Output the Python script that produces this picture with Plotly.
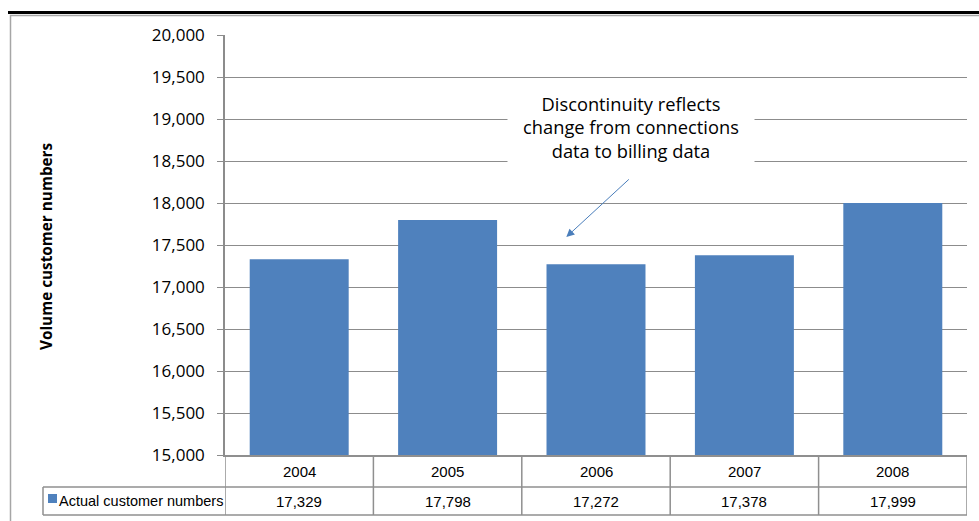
import plotly.graph_objects as go

# Data
years = ["2004", "2005", "2006", "2007", "2008"]
customers = [17329, 17798, 17272, 17378, 17999]
series_name = "Actual customer numbers"
y_ticks = [15000, 15500, 16000, 16500, 17000, 17500, 18000, 18500, 19000, 19500, 20000]
note_text = "Discontinuity reflects<br>change from connections<br>data to billing data"

W, H = 979, 521
L, R, T, B = 225, 967, 35, 455  # plot area in pixels
BAR = "#4f81bd"
GRID = "#8c8c8c"
TABLE = "#8f8f8f"


def px_x(p):
    return (p - L) / (R - L)


def px_y(p):
    return (B - p) / (B - T)


fig = go.Figure()
fig.add_trace(go.Bar(
    x=years, y=customers, marker_color=BAR, marker_line_width=0,
    width=0.667, name=series_name, showlegend=False,
))

shapes = []
annotations = []

# Outer chart frame and heavy rule above it
shapes.append(dict(type="rect", xref="paper", yref="paper",
                   x0=px_x(10.5), x1=px_x(990), y0=px_y(530), y1=px_y(15.5),
                   line=dict(color="#a6a6a6", width=1.5), layer="below"))
shapes.append(dict(type="line", xref="paper", yref="paper",
                   x0=px_x(8), x1=px_x(990), y0=px_y(12.5), y1=px_y(12.5),
                   line=dict(color="#000000", width=3)))

# Data table below the plot
row1_bot = px_y(487)
row2_bot = px_y(515)
n = len(years)
for i in range(n + 1):
    shapes.append(dict(type="line", xref="x", yref="paper",
                       x0=i - 0.5, x1=i - 0.5, y0=0, y1=row2_bot,
                       line=dict(color=TABLE, width=1.5)))
for yy in (row1_bot, row2_bot):
    shapes.append(dict(type="line", xref="paper", yref="paper",
                       x0=px_x(43), x1=1, y0=yy, y1=yy,
                       line=dict(color=TABLE, width=1.5)))
shapes.append(dict(type="line", xref="paper", yref="paper",
                   x0=px_x(43), x1=px_x(43), y0=row1_bot, y1=row2_bot,
                   line=dict(color=TABLE, width=1.5)))
# legend key in the table's first cell
shapes.append(dict(type="rect", xref="paper", yref="paper",
                   x0=px_x(48), x1=px_x(57), y0=px_y(503), y1=px_y(494),
                   fillcolor=BAR, line=dict(width=0)))

table_font = dict(family="Liberation Sans, Arial, sans-serif", size=15, color="#000000")
for i, (yr, v) in enumerate(zip(years, customers)):
    cx = (i + 0.5) / n  # centre of the category column in paper units
    annotations.append(dict(x=cx, y=px_y(471.5), xref="paper", yref="paper",
                            xanchor="center", yanchor="middle",
                            text=yr, showarrow=False, font=table_font))
    annotations.append(dict(x=cx, y=px_y(501.5), xref="paper", yref="paper",
                            xanchor="center", yanchor="middle",
                            text=f"{v:,}", showarrow=False, font=table_font))
annotations.append(dict(x=px_x(57), y=px_y(500.5), xref="paper", yref="paper",
                        xanchor="left", yanchor="middle", text=series_name, showarrow=False,
                        font=dict(family="Liberation Sans Narrow, Liberation Sans, Arial, sans-serif",
                                  size=14.5, color="#000000")))

# Y axis title
annotations.append(dict(x=px_x(46), y=px_y(246), xref="paper", yref="paper",
                        xanchor="center", yanchor="middle",
                        text="<b>Volume customer numbers</b>", textangle=-90,
                        showarrow=False,
                        font=dict(family="Open Sans, sans-serif", size=15.3, color="#000000")))

# Callout text box and arrow
annotations.append(dict(x=px_x(631), y=px_y(127), xref="paper", yref="paper",
                        xanchor="center", yanchor="middle",
                        text=note_text, showarrow=False, bgcolor="#ffffff",
                        width=244, height=80, align="center",
                        font=dict(family="Open Sans, sans-serif", size=18.3, color="#000000")))
annotations.append(dict(x=1.8, y=17595, xref="x", yref="y", text="",
                        showarrow=True, ax=64, ay=-59, arrowhead=2,
                        arrowsize=1.6, arrowwidth=1, arrowcolor="#4a7ebb"))

fig.update_layout(
    width=W, height=H, autosize=False,
    margin=dict(l=L, r=W - R, t=T, b=H - B),
    paper_bgcolor="#ffffff", plot_bgcolor="#ffffff",
    shapes=shapes, annotations=annotations,
    bargap=0.333,
    xaxis=dict(type="category", showticklabels=False, ticks="",
               showgrid=False, showline=True, linecolor=TABLE, linewidth=1.5,
               range=[-0.5, n - 0.5], zeroline=False),
    yaxis=dict(range=[15000, 20000], tickvals=y_ticks, tickformat=",d",
               showgrid=True, gridcolor=GRID, gridwidth=1.2,
               showline=True, linecolor=GRID, linewidth=1.5,
               ticks="outside", ticklen=6, tickcolor=GRID, tickwidth=1.2,
               ticklabelstandoff=9, zeroline=False,
               tickfont=dict(family="Open Sans, sans-serif", size=17, color="#000000")),
)

fig.write_html("out.html")
